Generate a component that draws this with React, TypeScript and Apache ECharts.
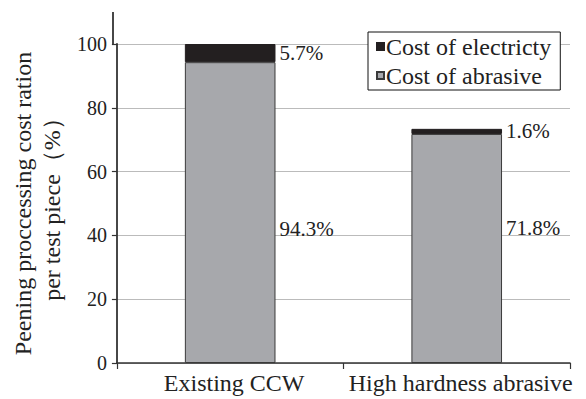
import React, { useEffect, useRef } from "react";
import * as echarts from "echarts";

const categories = ["Existing CCW", "High hardness abrasive"];
const abrasiveCost = [94.3, 71.8];
const electricityCost = [5.7, 1.6];
const yTicks = [0, 20, 40, 60, 80, 100];
const seriesNames = ["Cost of electricty", "Cost of abrasive"];
// vertical nudges for the abrasive share labels so both sit on one line
const abrasiveLabelNudge = [16, -20];

const FONT = "Liberation Serif";

export default function App() {
  const ref = useRef<HTMLDivElement>(null);

  useEffect(() => {
    if (!ref.current) return;
    const chart = echarts.init(ref.current, undefined, { renderer: "svg" });
    const gridLeft = 113;
    const gridTop = 44;
    chart.setOption({
      animation: false,
      backgroundColor: "#ffffff",
      textStyle: { fontFamily: FONT, color: "#222" },
      grid: { left: gridLeft, right: 16, top: gridTop, bottom: 36 },
      legend: {
        orient: "vertical",
        left: 368,
        top: 32,
        padding: [1, 9, 1, 8],
        itemGap: 2,
        itemWidth: 7,
        itemHeight: 7,
        icon: "rect",
        backgroundColor: "#fff",
        borderColor: "#111",
        borderWidth: 1,
        borderRadius: 0,
        data: seriesNames,
        textStyle: { fontFamily: FONT, fontSize: 24, color: "#222", lineHeight: 27, padding: [0, 0, 0, -3] },
      },
      xAxis: {
        type: "category",
        data: categories,
        boundaryGap: true,
        axisLine: { lineStyle: { color: "#333", width: 1.5 } },
        axisTick: { show: true, alignWithLabel: false, length: 6, lineStyle: { color: "#333", width: 1.2 } },
        axisLabel: {
          interval: 0,
          hideOverlap: false,
          fontFamily: FONT,
          fontSize: 24,
          color: "#222",
          margin: 8,
          padding: [0, 0, 0, 8],
        },
      },
      yAxis: {
        type: "value",
        min: yTicks[0],
        max: yTicks[yTicks.length - 1],
        interval: 20,
        name: "Peening proccessing cost ration\nper test piece（%）",
        nameLocation: "middle",
        nameRotate: 90,
        nameGap: 39,
        nameTextStyle: { fontFamily: FONT, fontSize: 24, color: "#222", lineHeight: 29 },
        axisLine: { show: true, lineStyle: { color: "#333", width: 1.8 } },
        axisTick: { show: true, length: 5, lineStyle: { color: "#333", width: 1.2 } },
        axisLabel: { fontFamily: FONT, fontSize: 20, color: "#222", margin: 10 },
        splitLine: { show: true, lineStyle: { color: "#bbbbbb", width: 1 } },
      },
      graphic: [
        {
          type: "line",
          shape: { x1: gridLeft, y1: 12, x2: gridLeft, y2: gridTop },
          style: { stroke: "#333", lineWidth: 1.8 },
          z: 10,
        },
      ],
      series: [
        {
          name: seriesNames[1],
          type: "bar",
          stack: "cost",
          barWidth: "40%",
          itemStyle: { color: "#a7a8ac", borderColor: "#3a3a3a", borderWidth: 1 },
          label: {
            show: true,
            position: "right",
            distance: 4,
            fontFamily: FONT,
            fontSize: 21,
            color: "#222",
            formatter: (p: any) => `${p.value}%`,
          },
          data: abrasiveCost.map((v, i) => ({
            value: v,
            label: { offset: [0, abrasiveLabelNudge[i]] },
          })),
        },
        {
          name: seriesNames[0],
          type: "bar",
          stack: "cost",
          barWidth: "40%",
          itemStyle: { color: "#231f20", borderColor: "#231f20", borderWidth: 1 },
          label: {
            show: true,
            position: "right",
            distance: 4,
            fontFamily: FONT,
            fontSize: 21,
            color: "#222",
            formatter: (p: any) => `${p.value}%`,
          },
          data: electricityCost,
        },
      ],
    });
    return () => chart.dispose();
  }, []);

  return (
    <div
      ref={ref}
      style={{ position: "fixed", left: 0, top: 0, width: 586, height: 399, background: "#fff" }}
    />
  );
}
